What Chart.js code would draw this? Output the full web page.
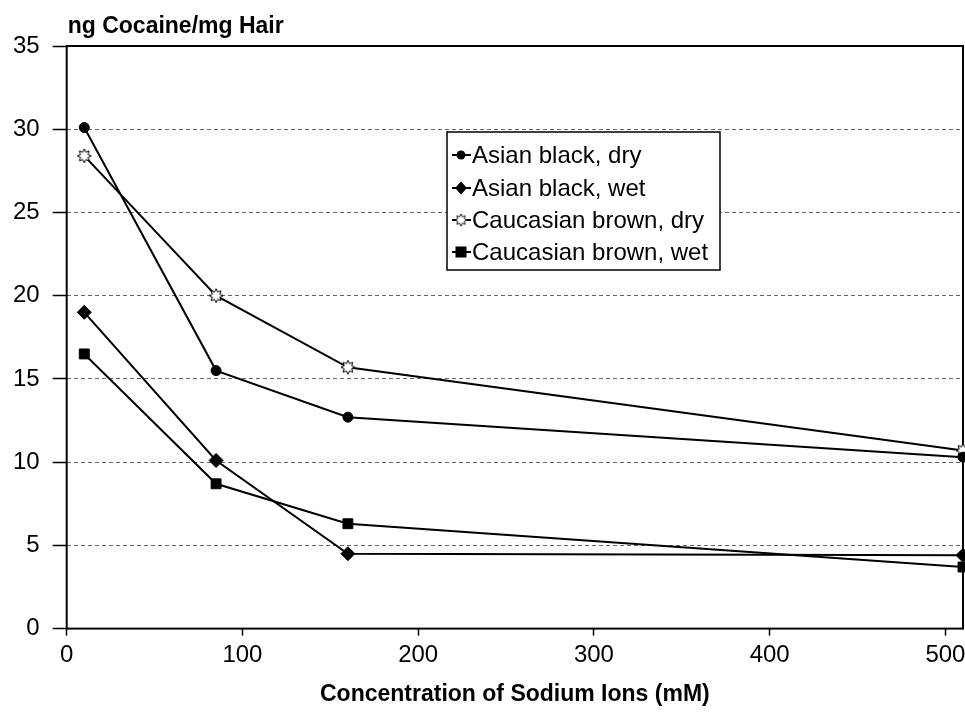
<!DOCTYPE html>
<html>
<head>
    <title>Cocaine binding vs sodium</title>
    <script src="https://cdn.jsdelivr.net/npm/chart.js"></script>
    <style>
        body { margin: 0; background: #fff; }
        #wrap { width: 965px; height: 720px; }
        canvas { display: block; }
    </style>
</head>
<body>
    <div id="wrap"><canvas id="hairChart" width="965" height="720"></canvas></div>

    <script>
        // values
        const sodium = [10, 85, 160, 510];
        const asianDry = [30.1, 15.5, 12.7, 10.3];
        const asianWet = [19.0, 10.1, 4.5, 4.4];
        const caucDry = [28.4, 20.0, 15.7, 10.7];
        const caucWet = [16.5, 8.7, 6.3, 3.7];
        const seriesNames = ['Asian black, dry', 'Asian black, wet', 'Caucasian brown, dry', 'Caucasian brown, wet'];
        const xTicks = [0, 100, 200, 300, 400, 500];
        const yTicks = [0, 5, 10, 15, 20, 25, 30, 35];

        const FONT = '"Liberation Sans", Arial, sans-serif';

        // open star marker
        function makeStar() {
            const c = document.createElement('canvas');
            c.width = 16; c.height = 16;
            const g = c.getContext('2d');
            g.beginPath();
            for (let i = 0; i < 16; i++) {
                const a = i * Math.PI / 8 - Math.PI / 2;
                const r = i % 2 === 0 ? 7 : 4;
                const px = 8 + r * Math.cos(a), py = 8 + r * Math.sin(a);
                if (i === 0) g.moveTo(px, py); else g.lineTo(px, py);
            }
            g.closePath();
            g.fillStyle = '#fff';
            g.fill();
            g.strokeStyle = '#000';
            g.lineWidth = 1;
            g.stroke();
            return c;
        }
        const starImg = makeStar();

        function pts(ys) {
            return sodium.map((x, i) => ({ x: x, y: ys[i] }));
        }

        const styles = [
            { pointStyle: 'circle', radius: 5 },
            { pointStyle: 'rectRot', radius: 7 },
            { pointStyle: starImg, radius: 8 },
            { pointStyle: 'rect', radius: 7 }
        ];

        const datasets = [asianDry, asianWet, caucDry, caucWet].map((ys, i) => ({
            label: seriesNames[i],
            data: pts(ys),
            borderColor: '#000',
            backgroundColor: '#000',
            borderWidth: 2,
            pointStyle: styles[i].pointStyle,
            pointRadius: styles[i].radius,
            pointBorderWidth: 1,
            pointBackgroundColor: '#000',
            pointBorderColor: '#000',
            tension: 0,
            clip: false
        }));

        function drawMarker(ctx, style, x, y) {
            ctx.save();
            ctx.fillStyle = '#000';
            if (style === 'circle') {
                ctx.beginPath(); ctx.arc(x, y, 4.5, 0, Math.PI * 2); ctx.fill();
            } else if (style === 'rectRot') {
                ctx.beginPath();
                ctx.moveTo(x, y - 6.5); ctx.lineTo(x + 6, y); ctx.lineTo(x, y + 6.5); ctx.lineTo(x - 6, y);
                ctx.closePath(); ctx.fill();
            } else if (style === 'rect') {
                ctx.fillRect(x - 5.5, y - 5.5, 11, 11);
            } else {
                ctx.drawImage(starImg, x - 7, y - 7, 14, 14);
            }
            ctx.restore();
        }

        const framePlugin = {
            id: 'frame',
            beforeDatasetsDraw(chart) {
                const { ctx, chartArea: a } = chart;
                ctx.save();
                ctx.strokeStyle = '#000';
                ctx.lineWidth = 2;
                ctx.strokeRect(a.left, a.top, a.right - a.left, a.bottom - a.top);
                ctx.restore();
            },
            afterDraw(chart) {
                const { ctx, chartArea: a } = chart;
                ctx.save();
                // y axis heading above the plot
                ctx.font = 'bold 23px ' + FONT;
                ctx.fillStyle = '#000';
                ctx.textBaseline = 'alphabetic';
                ctx.textAlign = 'left';
                ctx.fillText('ng Cocaine/mg Hair', a.left + 1, 33);

                // legend box
                const bx = 447, by = 132, bw = 273, bh = 138;
                ctx.fillStyle = '#fff';
                ctx.fillRect(bx, by, bw, bh);
                ctx.strokeStyle = '#000';
                ctx.lineWidth = 1.5;
                ctx.strokeRect(bx, by, bw, bh);
                ctx.font = '24px ' + FONT;
                ctx.textBaseline = 'middle';
                const rowY = [155, 188, 220, 252];
                chart.data.datasets.forEach((ds, i) => {
                    const y = rowY[i];
                    ctx.strokeStyle = '#000';
                    ctx.lineWidth = 2;
                    ctx.beginPath(); ctx.moveTo(452, y); ctx.lineTo(471, y); ctx.stroke();
                    drawMarker(ctx, styles[i].pointStyle, 461, y);
                    ctx.fillStyle = '#000';
                    ctx.fillText(ds.label, 472, y + 1);
                });
                ctx.restore();
            }
        };

        const ctx = document.getElementById('hairChart').getContext('2d');
        const hairChart = new Chart(ctx, {
            type: 'line',
            data: { datasets: datasets },
            options: {
                responsive: false,
                animation: false,
                layout: { autoPadding: false, padding: { top: 46, right: 2, left: 0, bottom: 12 } },
                plugins: {
                    legend: { display: false },
                    tooltip: { enabled: false }
                },
                scales: {
                    x: {
                        type: 'linear',
                        min: 0,
                        max: 510,
                        afterBuildTicks: (scale) => { scale.ticks = xTicks.map(v => ({ value: v })); },
                        afterFit: (scale) => { scale.paddingRight = 0; scale.paddingLeft = 0; },
                        border: { display: false },
                        grid: {
                            drawOnChartArea: false,
                            drawTicks: true,
                            tickLength: 7,
                            tickColor: '#000',
                            tickWidth: 1.5
                        },
                        ticks: {
                            color: '#000',
                            font: { family: FONT, size: 24 },
                            padding: 5,
                            maxRotation: 0
                        },
                        title: {
                            display: true,
                            text: 'Concentration of Sodium Ions (mM)',
                            color: '#000',
                            font: { family: FONT, size: 23, weight: 'bold' },
                            padding: { top: 6, bottom: 0 }
                        }
                    },
                    y: {
                        min: 0,
                        max: 35,
                        afterBuildTicks: (scale) => { scale.ticks = yTicks.map(v => ({ value: v })); },
                        border: { display: false, dash: [4, 3] },
                        grid: {
                            color: '#666',
                            lineWidth: 1,
                            drawTicks: true,
                            tickLength: 14,
                            tickColor: '#000',
                            tickWidth: 1.5,
                            tickBorderDash: []
                        },
                        ticks: {
                            color: '#000',
                            font: { family: FONT, size: 24 },
                            padding: 13
                        }
                    }
                }
            },
            plugins: [framePlugin]
        });
    </script>
</body>
</html>
